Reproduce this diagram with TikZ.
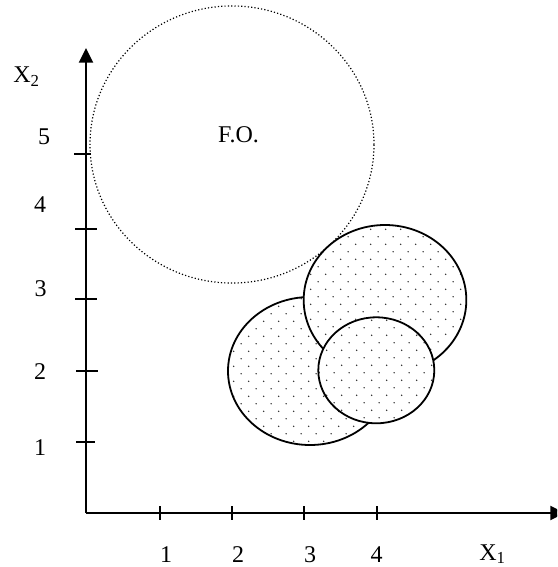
\documentclass[tikz,border=0pt]{standalone}
\usepackage{fontspec}
\setmainfont{Liberation Serif}
\usetikzlibrary{patterns,arrows.meta}
\pgfdeclarepatternformonly{stagdots}{\pgfqpoint{0pt}{0pt}}{\pgfqpoint{11.55pt}{11.55pt}}{\pgfqpoint{11.55pt}{11.55pt}}{%
  \pgfpathcircle{\pgfqpoint{2.89pt}{2.89pt}}{0.6pt}%
  \pgfpathcircle{\pgfqpoint{8.66pt}{8.66pt}}{0.6pt}%
  \pgfusepath{fill}}
\tikzset{
  lbl/.style={inner sep=0pt, font=\fontsize{18pt}{20pt}\selectfont, anchor=base},
  axisline/.style={line width=1.5pt, -{Triangle[length=11pt,width=10.5pt]}},
  tickmark/.style={line width=1.1pt},
  region/.style={line width=1.35pt, draw=black, preaction={fill=white}, pattern=stagdots, pattern color=black!85},
  fodash/.style={line width=0.9pt, dash pattern=on 0.9pt off 1.6pt}
}
\begin{document}
\begin{tikzpicture}[x=0.75pt,y=-0.75pt]
\useasboundingbox (0,0) rectangle (557,567);
\clip (0,0) rectangle (557,567);
% objective-function circle
\draw[fodash] (232,144.5) ellipse [x radius=106.5pt, y radius=103.9pt];
\node[lbl] (fo) at (238.5,142) {F.O.};
% feasible regions
\draw[region] (310,371) ellipse [x radius=61.5pt, y radius=55.5pt];
\draw[region] (385,300) ellipse [x radius=61pt, y radius=56.25pt];
\draw[region] (376.3,370.3) ellipse [x radius=43.5pt, y radius=39.75pt];
% axes
\coordinate (o) at (86,513);
\coordinate (ytop) at (86,48);
\coordinate (xend) at (565,513);
\draw[axisline] (o) -- (ytop);
\draw[axisline] (o) -- (xend);
% x ticks
\foreach \x/\n in {160/1,232/2,304/3,377/4}{
  \coordinate (xt\n a) at (\x,506);
  \coordinate (xt\n b) at (\x,520);
  \draw[tickmark] (xt\n a) -- (xt\n b);
}
% y ticks
\foreach \y/\n/\l/\r in {442/1/76/95,371/2/76/98,299/3/75/97,229/4/75/97,154/5/74/91}{
  \coordinate (yt\n a) at (\l,\y);
  \coordinate (yt\n b) at (\r,\y);
  \draw[tickmark] (yt\n a) -- (yt\n b);
}
% x labels
\node[lbl] (lx1) at (166,562) {1};
\node[lbl] (lx2) at (238,562) {2};
\node[lbl] (lx3) at (310,562) {3};
\node[lbl] (lx4) at (376.5,562) {4};
\node[lbl, anchor=base west] (lX1) at (479,560) {X\textsubscript{1}};
% y labels
\node[lbl] (ly1) at (40,455) {1};
\node[lbl] (ly2) at (40,379) {2};
\node[lbl] (ly3) at (40.5,296) {3};
\node[lbl] (ly4) at (40,212) {4};
\node[lbl] (ly5) at (44,144) {5};
\node[lbl, anchor=base west] (lX2) at (13,83) {X\textsubscript{2}};
\end{tikzpicture}
\end{document}
